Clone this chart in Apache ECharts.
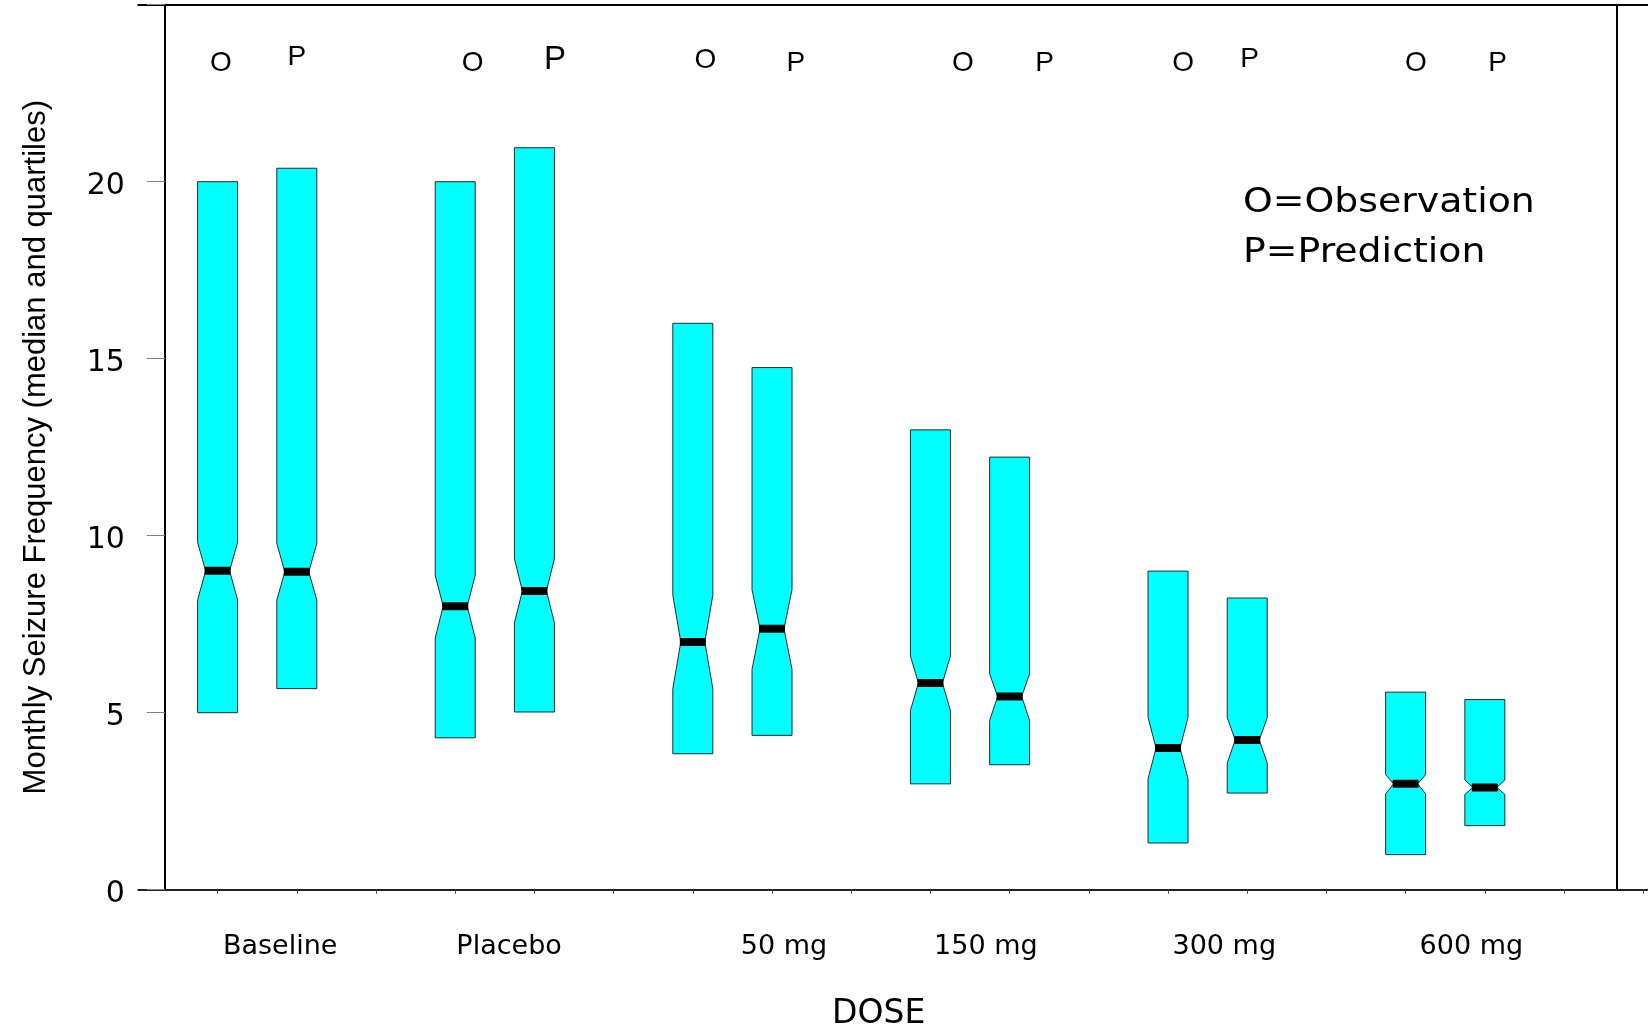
<!DOCTYPE html>
<html><head><meta charset="utf-8">
<script src="https://cdn.jsdelivr.net/npm/echarts@6/dist/echarts.min.js"></script>
<style>html,body{margin:0;padding:0;background:#fff}#c{width:1648px;height:1029px}</style>
</head><body><div id="c"></div>
<script>
// ---- data ----
const doses = ['Baseline', 'Placebo', '50 mg', '150 mg', '300 mg', '600 mg'];
// Observation (O)
const obsQ1      = [5.00, 4.29, 3.84, 2.99, 1.32, 0.99];
const obsNotchLo = [8.18, 7.11, 5.68, 5.06, 3.13, 2.71];
const obsMedian  = [9.01, 8.01, 7.00, 5.84, 4.00, 2.99];
const obsNotchHi = [9.81, 8.88, 8.32, 6.60, 4.87, 3.25];
const obsQ3      = [20.00, 20.00, 16.00, 12.99, 9.00, 5.58];
// Prediction (P)
const predQ1      = [5.68, 5.02, 4.36, 3.53, 2.73, 1.81];
const predNotchLo = [8.18, 7.54, 6.22, 4.78, 3.58, 2.69];
const predMedian  = [8.98, 8.44, 7.37, 5.46, 4.23, 2.89];
const predNotchHi = [9.78, 9.35, 8.48, 6.10, 4.86, 3.10];
const predQ3      = [20.38, 20.96, 14.75, 12.22, 8.24, 5.37];
const yTickLabels = [0, 5, 10, 15, 20];
const slotTicks = [0,1,2,3,4,5,6,7,8,9,10,11,12,13,14,15,16,17,18];
const doseLabelPos = [0.79, 3.68, 7.15, 9.70, 12.71, 15.83];
// O / P letters above the boxes: [letter, x, y]
const opMarks = [
  ['O', 0.04, 23.35], ['P', 1.00, 23.51],
  ['O', 3.22, 23.35], ['P', 4.26, 23.45],
  ['O', 6.16, 23.44], ['P', 7.30, 23.35],
  ['O', 9.41, 23.35], ['P', 10.44, 23.35],
  ['O', 12.19, 23.35], ['P', 13.03, 23.47],
  ['O', 15.13, 23.35], ['P', 16.16, 23.35]
];
const legendLines = ['O=Observation', 'P=Prediction'];

// ---- build series data ----
const boxData = [];
doses.forEach((d, i) => {
  boxData.push([3 * i, obsQ1[i], obsNotchLo[i], obsMedian[i], obsNotchHi[i], obsQ3[i]]);
  boxData.push([3 * i + 1, predQ1[i], predNotchLo[i], predMedian[i], predNotchHi[i], predQ3[i]]);
});

function renderBox(params, api) {
  const x = api.value(0);
  const yq1 = api.coord([x, api.value(1)])[1];
  const yLo = api.coord([x, api.value(2)])[1];
  const c = api.coord([x, api.value(3)]);
  const yHi = api.coord([x, api.value(4)])[1];
  const yq3 = api.coord([x, api.value(5)])[1];
  const cx = c[0], yMed = c[1];
  const hw = api.size([0.505, 0])[0] / 2;
  const waist = hw * 0.6;
  const pts = [[cx - hw, yq3], [cx + hw, yq3], [cx + hw, yHi], [cx + waist, yMed], [cx + hw, yLo],
               [cx + hw, yq1], [cx - hw, yq1], [cx - hw, yLo], [cx - waist, yMed], [cx - hw, yHi]];
  return {
    type: 'group',
    children: [
      { type: 'polygon', shape: { points: pts }, style: { fill: '#00FFFF', stroke: '#2a2a2a', lineWidth: 1 } },
      { type: 'rect', shape: { x: cx - waist - 1, y: yMed - 4, width: 2 * waist + 2, height: 8, r: 1 }, style: { fill: '#000' } }
    ]
  };
}

function renderMark(params, api) {
  const pt = api.coord([api.value(1), api.value(2)]);
  const m = opMarks[params.dataIndex];
  const big = params.dataIndex === 3;
  return {
    type: 'text', x: pt[0], y: pt[1],
    style: { text: m[0], fontFamily: 'Liberation Sans, Arial, sans-serif', fontSize: big ? 33 : 28,
             fill: '#000', align: 'center', verticalAlign: 'middle' }
  };
}

const chart = echarts.init(document.getElementById('c'), null, { renderer: 'canvas' });
chart.setOption({
  animation: false,
  backgroundColor: '#fff',
  grid: { left: 138.4, right: 0, top: 4.7, bottom: 139.3, outerBoundsMode: 'none', containLabel: false },
  xAxis: [{
    type: 'value', min: -1, max: 18.06, position: 'bottom',
    axisLine: { show: true, onZero: false, lineStyle: { color: '#222', width: 2 } },
    axisTick: { show: true, customValues: slotTicks, length: 4, lineStyle: { color: '#444', width: 1 } },
    axisLabel: {
      customValues: doseLabelPos,
      formatter: v => { const k = doseLabelPos.indexOf(v); return k >= 0 ? doses[k] : ''; },
      margin: 57, verticalAlign: 'middle', fontFamily: 'DejaVu Sans', fontSize: 27, color: '#000'
    },
    splitLine: { show: false },
    name: 'DOSE', nameLocation: 'middle', nameGap: 108, nameMoveOverlap: false,
    nameTextStyle: { fontFamily: 'DejaVu Sans', fontSize: 33, color: '#000', padding: [0, 29, 0, 0] }
  }, {
    type: 'value', min: -1, max: 18.06, position: 'top',
    axisLine: { show: true, onZero: false, lineStyle: { color: '#000', width: 2 } },
    axisTick: { show: false }, axisLabel: { show: false }, splitLine: { show: false }
  }],
  yAxis: [{
    type: 'value', min: 0, max: 25, interval: 5, position: 'left', offset: -26.5,
    axisLine: { show: true, onZero: false, lineStyle: { color: '#000', width: 2 } },
    axisTick: { show: true, length: 18, lineStyle: { color: '#808080', width: 1 } },
    axisLabel: {
      margin: 40, formatter: v => (yTickLabels.includes(v) ? String(v) : ''),
      fontFamily: 'DejaVu Sans', fontSize: 30, color: '#000',
      verticalAlign: 'top', lineHeight: 10
    },
    splitLine: { show: false },
    name: 'Monthly Seizure Frequency (median and quartiles)', nameLocation: 'middle', nameGap: 113,
    nameMoveOverlap: false,
    nameTextStyle: { fontFamily: 'Liberation Sans, Arial, sans-serif', fontSize: 31, color: '#000' }
  }, {
    type: 'value', min: 0, max: 25, interval: 5, position: 'right', offset: -31.5,
    axisLine: { show: true, onZero: false, lineStyle: { color: '#000', width: 2 } },
    axisTick: { show: false }, axisLabel: { show: false }, splitLine: { show: false }
  }],
  graphic: legendLines.map((t, i) => ({
    type: 'text', x: 1243, y: 203 + i * 50, scaleX: 1.146, silent: true,
    style: { text: t, fontFamily: 'DejaVu Sans', fontSize: 33, fill: '#000', align: 'left', verticalAlign: 'middle' }
  })),
  series: [{
    type: 'custom', name: 'boxes', renderItem: renderBox, data: boxData,
    encode: { x: 0, y: [1, 2, 3, 4, 5] }, silent: true, clip: false
  }, {
    type: 'custom', name: 'marks', renderItem: renderMark,
    data: opMarks.map(m => [m[0], m[1], m[2]]),
    dimensions: [{ name: 'letter', type: 'ordinal' }, 'x', 'y'],
    encode: { x: 1, y: 2 }, silent: true, clip: false
  }]
});
</script>
</body></html>
